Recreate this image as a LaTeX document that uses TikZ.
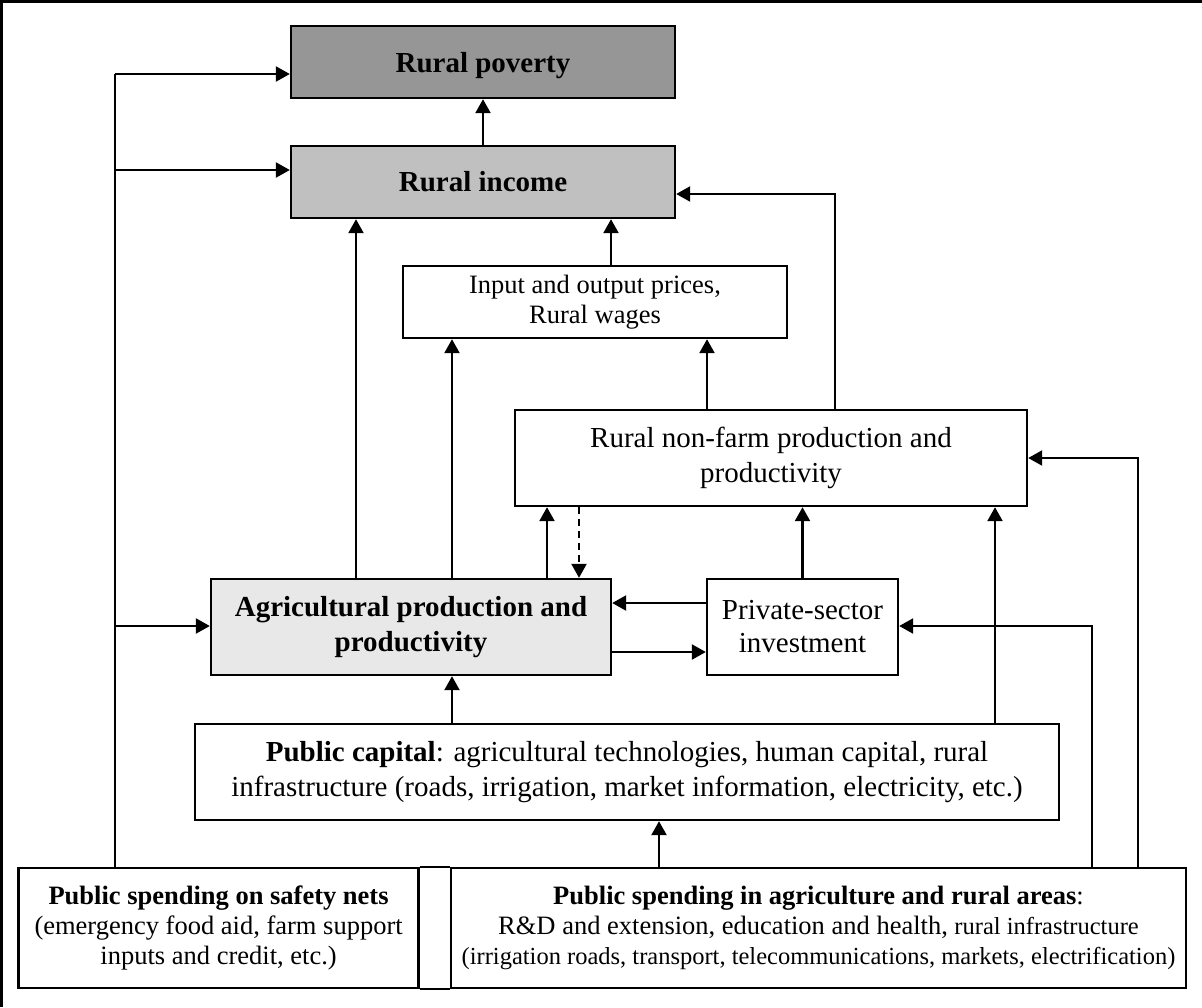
\documentclass[tikz,border=0pt]{standalone}
\usepackage{fontspec}
\setmainfont{Liberation Serif}
\usetikzlibrary{arrows.meta}
\definecolor{povgray}{HTML}{969696}
\definecolor{incgray}{HTML}{C0C0C0}
\definecolor{aggray}{HTML}{E8E8E8}
\tikzset{
  box/.style={draw=black, line width=2.4pt, inner sep=0pt, align=center, text=black},
  con/.style={line width=2.4pt, draw=black},
  arr/.style={con, -{Triangle[length=14pt,width=15pt]}},
  fbig/.style={font=\fontsize{29}{34.5}\selectfont},
  fmid/.style={font=\fontsize{26.5}{30.4}\selectfont},
}
\begin{document}
\begin{tikzpicture}[x=1pt,y=-1pt]
\useasboundingbox (0,0) rectangle (1202,1007);
% frame (top and left edges visible)
\draw[line width=2.6pt] (1.3,1007) -- (1.3,1.3) -- (1202,1.3);

% nodes
\node[box, fill=povgray, fbig, text depth=0pt, minimum width=384pt, minimum height=72pt] (poverty) at (483,62) {\textbf{Rural poverty}};
\node[box, fill=incgray, fbig, minimum width=384pt, minimum height=72pt] (income) at (483,182) {\textbf{Rural income}};
\node[box, fill=white, fmid, minimum width=384pt, minimum height=72pt] (prices) at (595,302) {Input and output prices,\\Rural wages};
\node[box, fill=white, fbig, minimum width=512pt, minimum height=96pt] (nonfarm) at (771,458) {Rural non-farm production and\\productivity};
\node[box, fill=aggray, fbig, minimum width=400pt, minimum height=96pt] (ag) at (411,627) {\textbf{Agricultural production and}\\\textbf{productivity}};
\node[box, fill=white, font=\fontsize{29}{33}\selectfont, minimum width=191pt, minimum height=96pt] (private) at (802.5,627) {Private-sector\\investment};
\node[box, fill=white, fbig, minimum width=864pt, minimum height=96pt] (pubcap) at (627,772) {\textbf{Public capital}: agricultural technologies, human capital, rural\\infrastructure (roads, irrigation, market information, electricity, etc.)};
\node[box, fill=white, fmid, minimum width=400pt, minimum height=120pt] (bl) at (218.6,928) {\textbf{Public spending on safety nets}\\(emergency food aid, farm support\\inputs and credit, etc.)};
\node[box, fill=white, fmid, minimum width=735pt, minimum height=120pt] (br) at (818.5,928) {\textbf{Public spending in agriculture and rural areas}:\\R\&D and extension, education and health, {\fontsize{24.5}{30.4}\selectfont rural infrastructure}\\{\fontsize{24.5}{30.4}\selectfont (irrigation roads, transport, telecommunications, markets, electrification)}};
% narrow empty cell between the two bottom boxes
\draw[con] (bl.north east) -- (br.north west);
\draw[con] (bl.south east) -- (br.south west);

% guide coordinates
\coordinate (cL) at (115,0);
\coordinate (b1) at (115,74);
\coordinate (b2) at (115,170);
\coordinate (b3) at (115,626);
\coordinate (x356) at (356,0);
\coordinate (x452) at (452,0);
\coordinate (x547) at (547,0);
\coordinate (x579) at (579,0);
\coordinate (x611) at (611,0);
\coordinate (x707) at (707,0);
\coordinate (x995) at (995,0);
\coordinate (x659) at (659,0);
\coordinate (r1) at (835,194);
\coordinate (r2) at (1092,626);
\coordinate (r3) at (1138,458);
\coordinate (h1) at (0,603);
\coordinate (h2) at (0,652);

% connectors
\draw[arr] (income) -- (poverty);
\draw[con] (cL |- bl.north) -- (b1);
\draw[arr] (b1) -- (b1 -| poverty.west);
\draw[arr] (b2) -- (b2 -| income.west);
\draw[arr] (b3) -- (b3 -| ag.west);

\draw[arr] (x356 |- ag.north) -- (x356 |- income.south);
\draw[arr] (x452 |- ag.north) -- (x452 |- prices.south);
\draw[arr] (x547 |- ag.north) -- (x547 |- nonfarm.south);
\draw[arr, dash pattern=on 7pt off 5pt] (x579 |- nonfarm.south) -- (x579 |- ag.north);
\draw[arr] (x611 |- prices.north) -- (x611 |- income.south);
\draw[arr] (x707 |- nonfarm.north) -- (x707 |- prices.south);
\draw[arr] (r1 |- nonfarm.north) -- (r1) -- (r1 -| income.east);
\draw[arr] (private.north) -- (private.north |- nonfarm.south);
\draw[arr] (h1 -| private.west) -- (h1 -| ag.east);
\draw[arr] (h2 -| ag.east) -- (h2 -| private.west);
\draw[arr] (x452 |- pubcap.north) -- (x452 |- ag.south);
\draw[arr] (x995 |- pubcap.north) -- (x995 |- nonfarm.south);
\draw[arr] (x659 |- br.north) -- (x659 |- pubcap.south);
\draw[arr] (r2 |- br.north) -- (r2) -- (r2 -| private.east);
\draw[arr] (r3 |- br.north) -- (r3) -- (r3 -| nonfarm.east);
\end{tikzpicture}
\end{document}
